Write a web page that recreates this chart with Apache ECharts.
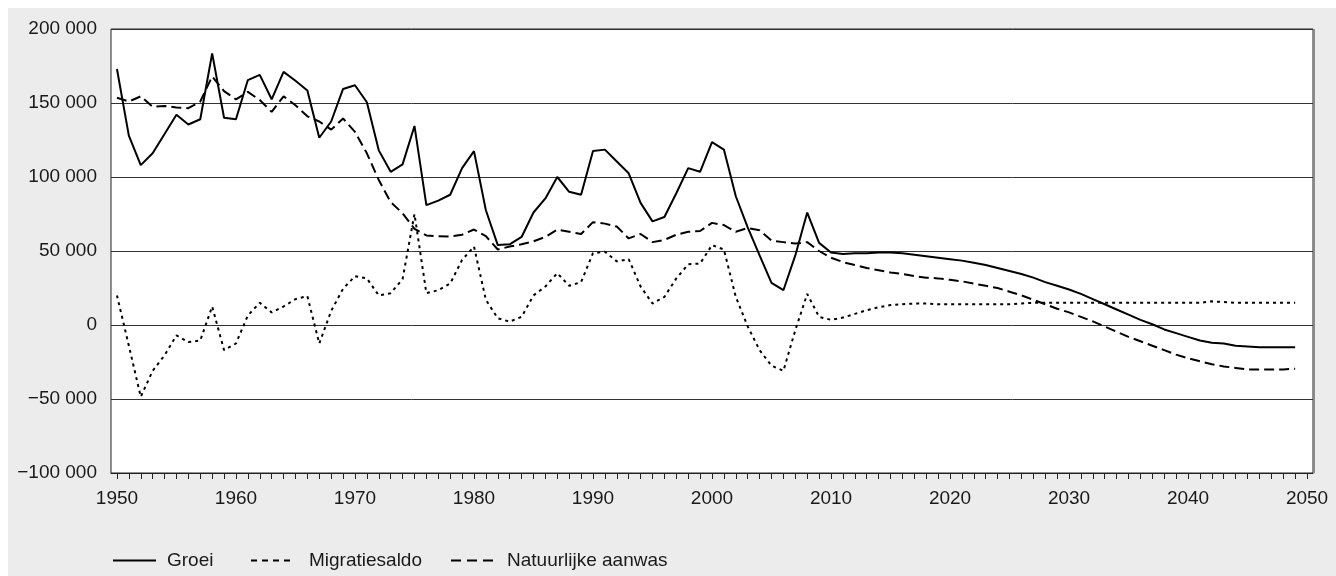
<!DOCTYPE html>
<html>
<head>
<meta charset="utf-8">
<script src="https://cdn.jsdelivr.net/npm/echarts@6/dist/echarts.min.js"></script>
<style>
html,body{margin:0;padding:0;background:#fff;}
#chart{width:1336px;height:576px;}
</style>
</head>
<body>
<div id="chart"></div>
<script>
const years = [1950,1951,1952,1953,1954,1955,1956,1957,1958,1959,
1960,1961,1962,1963,1964,1965,1966,1967,1968,1969,
1970,1971,1972,1973,1974,1975,1976,1977,1978,1979,
1980,1981,1982,1983,1984,1985,1986,1987,1988,1989,
1990,1991,1992,1993,1994,1995,1996,1997,1998,1999,
2000,2001,2002,2003,2004,2005,2006,2007,2008,2009,
2010,2011,2012,2013,2014,2015,2016,2017,2018,2019,
2020,2021,2022,2023,2024,2025,2026,2027,2028,2029,
2030,2031,2032,2033,2034,2035,2036,2037,2038,2039,
2040,2041,2042,2043,2044,2045,2046,2047,2048,2049,2050];

const groei = [173000,128000,108000,116000,129000,142000,135500,139000,183500,140000,
139000,165500,169000,152500,171000,165000,158500,126500,137500,159500,
162000,150500,118000,103500,108500,134500,81000,84000,88000,106000,
117500,77500,54000,54500,59500,76000,85500,100000,90000,88000,
117500,118500,110500,102500,82500,70000,73000,89000,106000,103500,
123500,118500,87000,66000,47000,28500,23500,47000,76000,55500,
49000,48000,48500,48500,49000,49000,48500,47500,46500,45500,
44500,43500,42000,40500,38500,36500,34500,32000,29000,26500,
24000,21000,17500,14000,10500,7000,3500,500,-3000,-5500,
-8000,-10500,-12000,-12500,-14000,-14500,-15000,-15000,-15000,-15000];

const migratiesaldo = [20000,-14000,-48500,-31000,-20500,-7000,-11500,-10500,12500,-17000,
-12500,6500,15000,8500,12500,17500,19500,-12500,9500,24500,
33000,31500,20000,21500,31000,75000,21500,23500,28000,44000,
53000,17000,4500,2300,5500,20000,26000,35000,26500,29000,
48500,49500,43000,44500,26000,14500,19000,31500,41000,41500,
54000,51000,19000,-1000,-17000,-27500,-31000,-3500,21000,5500,
3500,5000,7500,10000,12000,13500,14000,14500,14500,14000,
14000,14000,14000,14000,14000,14000,14500,15000,15000,15000,
15000,15000,15000,15000,15000,15000,15000,15000,15000,15000,
15000,15000,16000,15500,15000,15000,15000,15000,15000,15000];

const natuurlijkeAanwas = [153500,151000,154500,147500,148000,147000,146500,151000,168000,158000,
152500,157500,152000,144000,154500,148500,141000,137500,132000,139500,
130500,116000,98000,83000,75500,65000,60500,60000,59700,61000,
64500,60000,51000,53000,54500,56500,59500,64500,63000,61500,
69500,68500,66500,58500,61500,56000,57500,61000,63000,63500,
69000,67500,63000,65500,64000,57000,56000,55000,56000,50000,
45500,42500,40500,38500,37000,35500,34500,33000,32000,31500,
30500,29500,28000,26500,25000,22500,20000,17000,14000,11000,
8500,5500,2500,-1000,-4500,-8000,-11000,-14000,-17000,-20000,
-22500,-24500,-26500,-28000,-29000,-30000,-30000,-30000,-30000,-29500];

const seriesNames = ['Groei','Migratiesaldo','Natuurlijke aanwas'];
const yTicks = {min:-100000, max:200000, step:50000};

const FONT = "'Liberation Sans', Arial, Helvetica, sans-serif";
const TXT = '#1a1a1a';
const FS = 19;

function fmtNum(v){
  const s = String(Math.abs(v)).replace(/\B(?=(\d{3})+(?!\d))/g, ' ');
  return (v < 0 ? '\u2212' : '') + s;
}

const noSymbol = {color:'rgba(0,0,0,0)', borderWidth:0, opacity:0};

const chart = echarts.init(document.getElementById('chart'), null, {renderer:'canvas'});
chart.setOption({
  animation:false,
  backgroundColor:'#ebeceb',
  textStyle:{fontFamily:FONT},
  graphic:[
    {type:'rect', left:0, top:0, shape:{width:1336,height:8}, style:{fill:'#fff'}, silent:true},
    {type:'rect', left:0, top:0, shape:{width:8,height:576}, style:{fill:'#fff'}, silent:true},
    {type:'rect', left:1313, top:29, shape:{width:2,height:444}, style:{fill:'#8a8a8a'}, silent:true}
  ],
  grid:{left:111, right:23, top:29, bottom:103, show:true, backgroundColor:'#fff', borderColor:'#222', borderWidth:1},
  legend:[
    {data:[seriesNames[0]], left:107, top:546, itemWidth:43, itemHeight:14, itemStyle:noSymbol,
     textStyle:{color:TXT, fontSize:FS, fontFamily:FONT, padding:[0,0,0,6]}},
    {data:[seriesNames[1]], left:245, top:546, itemWidth:44, itemHeight:14, itemStyle:noSymbol,
     lineStyle:{type:[6,5]},
     textStyle:{color:TXT, fontSize:FS, fontFamily:FONT, padding:[0,0,0,9]}},
    {data:[seriesNames[2]], left:445, top:546, itemWidth:46, itemHeight:14, itemStyle:noSymbol,
     lineStyle:{type:[10,6]},
     textStyle:{color:TXT, fontSize:FS, fontFamily:FONT, padding:[0,0,0,5]}}
  ],
  xAxis:{
    type:'category',
    data:years,
    boundaryGap:true,
    axisLine:{show:true, onZero:false, lineStyle:{color:'#222', width:1}},
    axisTick:{show:true, alignWithLabel:true, interval:0, length:6, lineStyle:{color:'#222'}},
    axisLabel:{interval:(i)=> i % 10 === 0, margin:16, color:TXT, fontSize:FS, fontFamily:FONT},
    splitLine:{show:false}
  },
  yAxis:{
    type:'value',
    min:yTicks.min, max:yTicks.max, interval:yTicks.step,
    axisLine:{show:false},
    axisTick:{show:false},
    axisLabel:{margin:14, color:TXT, fontSize:FS, fontFamily:FONT, formatter:fmtNum},
    splitLine:{show:true, lineStyle:{color:'#333', width:1}}
  },
  series:[
    {name:seriesNames[0], type:'line', data:groei, symbol:'none', lineStyle:{color:'#000', width:2, type:'solid'}, itemStyle:{color:'#000'}},
    {name:seriesNames[1], type:'line', data:migratiesaldo, symbol:'none', lineStyle:{color:'#000', width:2, type:[3,4]}, itemStyle:{color:'#000'}},
    {name:seriesNames[2], type:'line', data:natuurlijkeAanwas, symbol:'none', lineStyle:{color:'#000', width:2, type:[10,5]}, itemStyle:{color:'#000'}}
  ]
});
</script>
</body>
</html>
